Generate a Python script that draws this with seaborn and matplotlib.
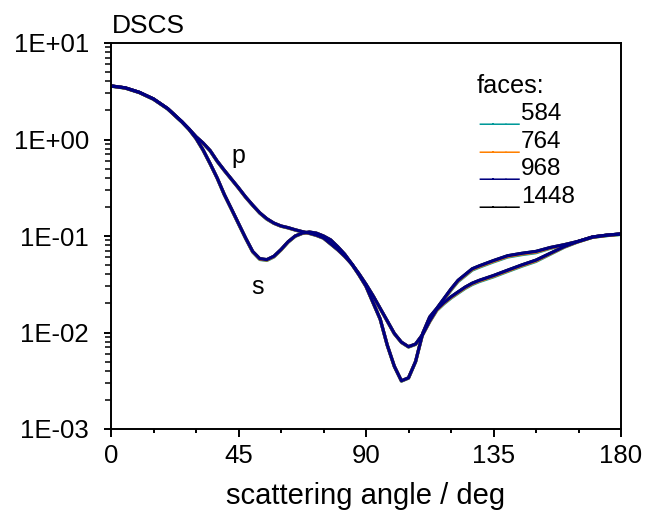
import numpy as np
import pandas as pd
import matplotlib
matplotlib.use("Agg")
import matplotlib.pyplot as plt
import matplotlib.ticker as mticker
import seaborn as sns

# ---------------- data ----------------
angles = [0, 5, 10, 15, 20, 25, 27.5, 30, 32.5, 35, 37.5, 40, 42.5, 45, 47.5,
          50, 52.5, 55, 57.5, 60, 62.5, 65, 67.5, 70, 72.5, 75, 77.5, 80, 82.5, 85,
          87.5, 90, 92.5, 95, 97.5, 100, 102.5, 105, 107.5, 110, 112.5, 115, 117.5,
          120, 122.5, 125, 127.5, 130, 135, 140, 145, 150, 155, 160, 165, 170, 175, 180]

p_968 = [3.59, 3.43, 3.08, 2.63, 2.09, 1.53, 1.29, 1.07, 0.92, 0.767, 0.596, 0.479,
         0.389, 0.316, 0.254, 0.209, 0.174, 0.151, 0.136, 0.127, 0.122, 0.116, 0.111,
         0.107, 0.102, 0.0955, 0.0832, 0.0724, 0.0617, 0.0513, 0.0407, 0.0316, 0.0240,
         0.0178, 0.0132, 0.00977, 0.00794, 0.00713, 0.00759, 0.00955, 0.0132, 0.0174,
         0.0204, 0.0234, 0.0263, 0.0295, 0.0324, 0.0347, 0.0389, 0.0442, 0.0501,
         0.0562, 0.0661, 0.0776, 0.0881, 0.0977, 0.102, 0.105]
s_968 = [3.59, 3.43, 3.08, 2.63, 2.09, 1.53, 1.28, 1.03, 0.78, 0.562, 0.398, 0.269,
         0.191, 0.135, 0.0955, 0.0692, 0.0582, 0.0569, 0.0617, 0.0724, 0.0871, 0.100,
         0.107, 0.110, 0.107, 0.100, 0.0912, 0.0776, 0.0646, 0.0513, 0.0398, 0.0302,
         0.0204, 0.0138, 0.00741, 0.00447, 0.00316, 0.00339, 0.00501, 0.00977, 0.0145,
         0.0178, 0.0224, 0.0282, 0.0347, 0.0398, 0.0457, 0.0490, 0.0556, 0.0624,
         0.0661, 0.0692, 0.0759, 0.0813, 0.0881, 0.0977, 0.102, 0.105]

p_1448 = list(p_968)
s_1448 = list(s_968)

p_764 = [3.58, 3.42, 3.07, 2.62, 2.08, 1.525, 1.285, 1.065, 0.915, 0.763, 0.593, 0.476,
         0.387, 0.314, 0.252, 0.208, 0.173, 0.150, 0.1355, 0.1265, 0.1215, 0.1155,
         0.1105, 0.1065, 0.1015, 0.0950, 0.0828, 0.0720, 0.0614, 0.0510, 0.0405,
         0.0314, 0.0239, 0.0177, 0.0131, 0.00972, 0.00790, 0.00710, 0.00755, 0.00950,
         0.0130, 0.0171, 0.0201, 0.0230, 0.0259, 0.0290, 0.0319, 0.0342, 0.0383,
         0.0435, 0.0493, 0.0553, 0.0653, 0.0770, 0.0876, 0.0973, 0.1015, 0.1045]
s_764 = [3.58, 3.42, 3.07, 2.62, 2.08, 1.525, 1.275, 1.025, 0.775, 0.559, 0.396, 0.2675,
         0.190, 0.134, 0.0948, 0.0686, 0.0576, 0.0563, 0.0611, 0.0718, 0.0865, 0.0995,
         0.1065, 0.1095, 0.1065, 0.0995, 0.0907, 0.0772, 0.0643, 0.0510, 0.0396,
         0.0300, 0.0203, 0.01375, 0.00738, 0.00445, 0.00315, 0.00338, 0.00499,
         0.00972, 0.0143, 0.0175, 0.0220, 0.0278, 0.0342, 0.0392, 0.0450, 0.0482,
         0.0547, 0.0614, 0.0651, 0.0681, 0.0751, 0.0807, 0.0876, 0.0973, 0.1015, 0.1045]

p_584 = [3.57, 3.41, 3.06, 2.61, 2.07, 1.52, 1.28, 1.06, 0.91, 0.76, 0.59, 0.474,
         0.385, 0.313, 0.251, 0.207, 0.172, 0.149, 0.135, 0.126, 0.121, 0.115, 0.110,
         0.106, 0.101, 0.0946, 0.0824, 0.0717, 0.0611, 0.0508, 0.0403, 0.0313, 0.0238,
         0.0176, 0.0131, 0.00967, 0.00786, 0.00706, 0.00751, 0.00945, 0.0129, 0.0169,
         0.0198, 0.0227, 0.0255, 0.0286, 0.0314, 0.0337, 0.0377, 0.0429, 0.0486,
         0.0545, 0.0645, 0.0764, 0.0872, 0.0970, 0.101, 0.104]
s_584 = [3.57, 3.41, 3.06, 2.61, 2.07, 1.52, 1.27, 1.02, 0.77, 0.556, 0.394, 0.266,
         0.189, 0.133, 0.0942, 0.0680, 0.0571, 0.0558, 0.0606, 0.0713, 0.0860, 0.099,
         0.106, 0.109, 0.106, 0.099, 0.0903, 0.0768, 0.0640, 0.0508, 0.0394, 0.0299,
         0.0202, 0.0137, 0.00734, 0.00443, 0.00313, 0.00336, 0.00496, 0.00967, 0.0141,
         0.0173, 0.0217, 0.0274, 0.0337, 0.0386, 0.0443, 0.0475, 0.0539, 0.0605,
         0.0641, 0.0671, 0.0744, 0.0801, 0.0872, 0.0970, 0.101, 0.104]

faces = ["584", "764", "968", "1448"]
colors = {"584": "#009999", "764": "#FF8000", "968": "#000080", "1448": "#000000"}
series = {
    "584": (p_584, s_584),
    "764": (p_764, s_764),
    "968": (p_968, s_968),
    "1448": (p_1448, s_1448),
}
draw_order = ["1448", "584", "764", "968"]

y_ticks = [1e-3, 1e-2, 1e-1, 1e0, 1e1]
y_ticklabels = ["1E-03", "1E-02", "1E-01", "1E+00", "1E+01"]
x_ticks = [0, 45, 90, 135, 180]

rows = []
for f in faces:
    p, s = series[f]
    n = min(len(angles), len(p), len(s))
    for a, v in zip(angles[:n], p[:n]):
        rows.append({"angle": a, "dscs": v, "faces": f, "pol": "p"})
    for a, v in zip(angles[:n], s[:n]):
        rows.append({"angle": a, "dscs": v, "faces": f, "pol": "s"})
df = pd.DataFrame(rows)

# ---------------- figure ----------------
sns.set_style("ticks")
plt.rcParams["font.family"] = ["Liberation Sans", "DejaVu Sans"]
for k in ["text.color", "axes.labelcolor", "xtick.color", "ytick.color", "axes.edgecolor"]:
    plt.rcParams[k] = "black"

fig = plt.figure(figsize=(6.46, 5.13), dpi=100)
ax = fig.add_axes([111 / 646, 1 - 429 / 513, 510 / 646, 386 / 513])

for f in draw_order:
    for pol in ["p", "s"]:
        sub = df[(df["faces"] == f) & (df["pol"] == pol)]
        sns.lineplot(data=sub, x="angle", y="dscs", color=colors[f], lw=2.3,
                     ax=ax, legend=False, estimator=None, sort=False)

ax.set_yscale("log")
ax.set_xlim(0, 180)
ax.set_ylim(1e-3, 1e1)
ax.xaxis.set_major_locator(mticker.FixedLocator(x_ticks))
ax.xaxis.set_minor_locator(mticker.MultipleLocator(15))
ax.set_xticklabels([str(x) for x in x_ticks])
ax.yaxis.set_major_locator(mticker.FixedLocator(y_ticks))
ax.yaxis.set_minor_locator(mticker.LogLocator(base=10, subs=np.arange(2, 10)))
ax.yaxis.set_minor_formatter(mticker.NullFormatter())
ax.set_yticklabels(y_ticklabels)

for sp in ax.spines.values():
    sp.set_linewidth(1.4)
    sp.set_color("black")
    sp.set_visible(True)

ax.tick_params(axis="x", which="major", direction="out", length=6, width=1.4,
               labelsize=18.5, pad=5)
ax.tick_params(axis="x", which="minor", direction="out", length=3, width=1.4)
ax.tick_params(axis="y", which="major", direction="out", length=5, width=1.4,
               labelsize=18.5, pad=11)
ax.tick_params(axis="y", which="minor", direction="out", length=4, width=1.1)

ax.set_xlabel("scattering angle / deg", fontsize=21, labelpad=10)
ax.set_ylabel("")

# title-like label
ax.text(0.002, 1.026, "DSCS", transform=ax.transAxes, fontsize=19,
        ha="left", va="baseline")

# curve labels
ax.text(42.5, 0.57, "p", fontsize=18, ha="left", va="baseline")
ax.text(49.6, 0.025, "s", fontsize=18, ha="left", va="baseline")

# legend made of text
ax.text(0.7176, 0.8705, "faces:", transform=ax.transAxes, fontsize=18.2,
        ha="left", va="baseline")
for i, f in enumerate(faces):
    yb = 0.8005 - i * 0.0715
    ax.text(0.7216, yb, "___", transform=ax.transAxes, fontsize=17.5,
            ha="left", va="baseline", color=colors[f])
    ax.text(0.804, yb, f, transform=ax.transAxes, fontsize=17.5,
            ha="left", va="baseline", color="black")

fig.savefig("out.png", dpi=100)
